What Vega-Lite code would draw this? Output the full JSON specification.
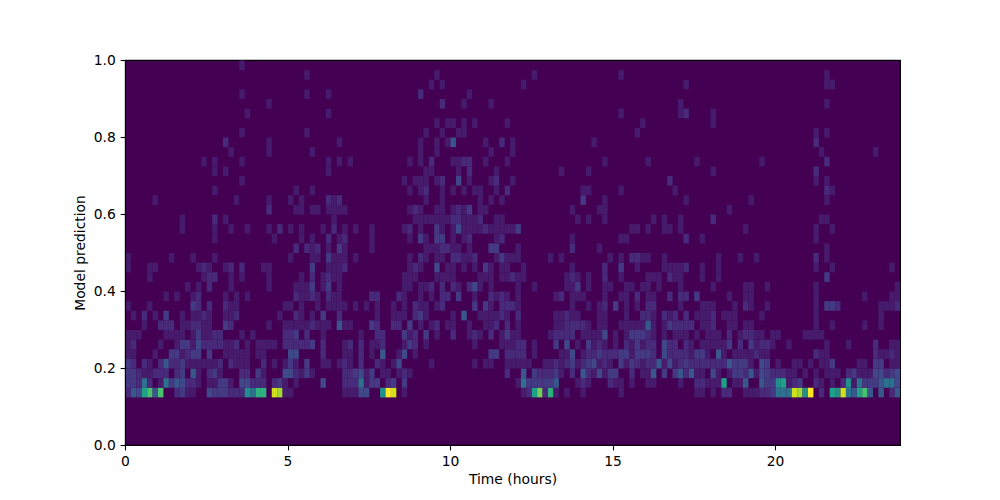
{"$schema":"https://vega.github.io/schema/vega-lite/v6.json","width":775,"height":385,"autosize":"none","padding":{"left":125,"top":60,"right":100,"bottom":55},"background":"white","config":{"view":{"fill":"#440154","stroke":"black","strokeWidth":1.1},"axis":{"grid":false,"labelFont":"DejaVu Sans","titleFont":"DejaVu Sans","labelFontSize":13.89,"titleFontSize":13.89,"titleFontWeight":"normal","labelColor":"black","titleColor":"black","domainColor":"black","tickColor":"black","tickSize":4.86,"tickWidth":1.1,"domainWidth":1.1,"labelFlush":false,"labelOverlap":false,"labelPadding":4.86}},
"data":{"values":[
{"t":0.08,"p":0.138,"n":2},{"t":0.25,"p":0.138,"n":5},{"t":0.42,"p":0.138,"n":4},{"t":0.58,"p":0.138,"n":8},{"t":0.75,"p":0.138,"n":10},{"t":0.92,"p":0.138,"n":5},{"t":1.08,"p":0.138,"n":10},{"t":1.58,"p":0.138,"n":2},{"t":1.75,"p":0.138,"n":3},{"t":1.92,"p":0.138,"n":1},{"t":2.08,"p":0.138,"n":1},{"t":2.58,"p":0.138,"n":4},{"t":2.75,"p":0.138,"n":3},{"t":2.92,"p":0.138,"n":3},{"t":3.08,"p":0.138,"n":3},{"t":3.25,"p":0.138,"n":2},{"t":3.42,"p":0.138,"n":2},{"t":3.58,"p":0.138,"n":2},{"t":3.75,"p":0.138,"n":7},{"t":3.92,"p":0.138,"n":6},{"t":4.08,"p":0.138,"n":9},{"t":4.25,"p":0.138,"n":9},{"t":4.58,"p":0.138,"n":13},{"t":4.75,"p":0.138,"n":12},{"t":4.92,"p":0.138,"n":1},{"t":5.08,"p":0.138,"n":1},{"t":6.75,"p":0.138,"n":1},{"t":6.92,"p":0.138,"n":1},{"t":7.08,"p":0.138,"n":1},{"t":7.25,"p":0.138,"n":4},{"t":7.42,"p":0.138,"n":4},{"t":7.92,"p":0.138,"n":7},{"t":8.08,"p":0.138,"n":14},{"t":8.25,"p":0.138,"n":13},{"t":8.58,"p":0.138,"n":1},{"t":12.25,"p":0.138,"n":1},{"t":12.42,"p":0.138,"n":2},{"t":12.58,"p":0.138,"n":8},{"t":12.75,"p":0.138,"n":11},{"t":12.92,"p":0.138,"n":2},{"t":13.08,"p":0.138,"n":9},{"t":13.25,"p":0.138,"n":1},{"t":13.58,"p":0.138,"n":1},{"t":14.08,"p":0.138,"n":1},{"t":15.25,"p":0.138,"n":1},{"t":17.58,"p":0.138,"n":1},{"t":17.75,"p":0.138,"n":1},{"t":18.08,"p":0.138,"n":1},{"t":18.42,"p":0.138,"n":2},{"t":18.58,"p":0.138,"n":2},{"t":19.08,"p":0.138,"n":1},{"t":19.25,"p":0.138,"n":1},{"t":19.42,"p":0.138,"n":1},{"t":19.58,"p":0.138,"n":2},{"t":19.75,"p":0.138,"n":2},{"t":19.92,"p":0.138,"n":3},{"t":20.08,"p":0.138,"n":6},{"t":20.25,"p":0.138,"n":6},{"t":20.42,"p":0.138,"n":6},{"t":20.58,"p":0.138,"n":13},{"t":20.75,"p":0.138,"n":12},{"t":20.92,"p":0.138,"n":7},{"t":21.08,"p":0.138,"n":14},{"t":21.42,"p":0.138,"n":2},{"t":21.75,"p":0.138,"n":8},{"t":21.92,"p":0.138,"n":7},{"t":22.08,"p":0.138,"n":13},{"t":22.25,"p":0.138,"n":6},{"t":22.42,"p":0.138,"n":5},{"t":22.58,"p":0.138,"n":8},{"t":22.75,"p":0.138,"n":10},{"t":22.92,"p":0.138,"n":5},{"t":23.25,"p":0.138,"n":5},{"t":23.58,"p":0.138,"n":2},{"t":23.75,"p":0.138,"n":5},
{"t":0.08,"p":0.163,"n":3},{"t":0.25,"p":0.163,"n":3},{"t":0.42,"p":0.163,"n":2},{"t":0.58,"p":0.163,"n":6},{"t":0.75,"p":0.163,"n":2},{"t":1.08,"p":0.163,"n":1},{"t":1.25,"p":0.163,"n":6},{"t":1.42,"p":0.163,"n":3},{"t":1.58,"p":0.163,"n":5},{"t":1.75,"p":0.163,"n":4},{"t":1.92,"p":0.163,"n":2},{"t":2.08,"p":0.163,"n":2},{"t":2.25,"p":0.163,"n":1},{"t":2.58,"p":0.163,"n":1},{"t":2.75,"p":0.163,"n":1},{"t":2.92,"p":0.163,"n":3},{"t":3.08,"p":0.163,"n":3},{"t":3.25,"p":0.163,"n":1},{"t":3.58,"p":0.163,"n":4},{"t":3.75,"p":0.163,"n":4},{"t":3.92,"p":0.163,"n":2},{"t":4.08,"p":0.163,"n":2},{"t":4.25,"p":0.163,"n":2},{"t":4.58,"p":0.163,"n":2},{"t":4.75,"p":0.163,"n":3},{"t":4.92,"p":0.163,"n":1},{"t":5.25,"p":0.163,"n":1},{"t":6.08,"p":0.163,"n":4},{"t":6.75,"p":0.163,"n":2},{"t":6.92,"p":0.163,"n":2},{"t":7.08,"p":0.163,"n":2},{"t":7.25,"p":0.163,"n":6},{"t":7.42,"p":0.163,"n":1},{"t":7.58,"p":0.163,"n":3},{"t":7.75,"p":0.163,"n":3},{"t":8.08,"p":0.163,"n":2},{"t":8.25,"p":0.163,"n":3},{"t":8.58,"p":0.163,"n":3},{"t":12.08,"p":0.163,"n":1},{"t":12.25,"p":0.163,"n":6},{"t":12.42,"p":0.163,"n":3},{"t":12.58,"p":0.163,"n":3},{"t":12.75,"p":0.163,"n":3},{"t":12.92,"p":0.163,"n":3},{"t":13.08,"p":0.163,"n":3},{"t":13.25,"p":0.163,"n":5},{"t":13.92,"p":0.163,"n":1},{"t":14.08,"p":0.163,"n":2},{"t":14.25,"p":0.163,"n":1},{"t":14.92,"p":0.163,"n":2},{"t":15.08,"p":0.163,"n":1},{"t":15.25,"p":0.163,"n":1},{"t":15.58,"p":0.163,"n":1},{"t":16.08,"p":0.163,"n":1},{"t":16.25,"p":0.163,"n":1},{"t":17.08,"p":0.163,"n":1},{"t":17.58,"p":0.163,"n":2},{"t":17.75,"p":0.163,"n":2},{"t":17.92,"p":0.163,"n":1},{"t":18.08,"p":0.163,"n":1},{"t":18.25,"p":0.163,"n":1},{"t":18.42,"p":0.163,"n":8},{"t":18.75,"p":0.163,"n":1},{"t":18.92,"p":0.163,"n":1},{"t":19.08,"p":0.163,"n":5},{"t":19.58,"p":0.163,"n":5},{"t":19.75,"p":0.163,"n":3},{"t":19.92,"p":0.163,"n":3},{"t":20.08,"p":0.163,"n":7},{"t":20.25,"p":0.163,"n":8},{"t":20.42,"p":0.163,"n":1},{"t":20.58,"p":0.163,"n":2},{"t":20.75,"p":0.163,"n":3},{"t":21.25,"p":0.163,"n":2},{"t":21.42,"p":0.163,"n":1},{"t":21.75,"p":0.163,"n":1},{"t":22.08,"p":0.163,"n":2},{"t":22.25,"p":0.163,"n":7},{"t":22.42,"p":0.163,"n":1},{"t":22.58,"p":0.163,"n":6},{"t":22.75,"p":0.163,"n":3},{"t":22.92,"p":0.163,"n":3},{"t":23.08,"p":0.163,"n":3},{"t":23.25,"p":0.163,"n":5},{"t":23.42,"p":0.163,"n":6},{"t":23.58,"p":0.163,"n":6},{"t":23.75,"p":0.163,"n":4},
{"t":0.08,"p":0.188,"n":3},{"t":0.25,"p":0.188,"n":3},{"t":0.42,"p":0.188,"n":2},{"t":0.58,"p":0.188,"n":1},{"t":0.75,"p":0.188,"n":1},{"t":0.92,"p":0.188,"n":2},{"t":1.08,"p":0.188,"n":2},{"t":1.25,"p":0.188,"n":2},{"t":1.58,"p":0.188,"n":2},{"t":1.75,"p":0.188,"n":3},{"t":2.08,"p":0.188,"n":5},{"t":2.25,"p":0.188,"n":1},{"t":2.58,"p":0.188,"n":2},{"t":2.75,"p":0.188,"n":3},{"t":2.92,"p":0.188,"n":1},{"t":3.58,"p":0.188,"n":2},{"t":3.75,"p":0.188,"n":2},{"t":4.08,"p":0.188,"n":3},{"t":4.25,"p":0.188,"n":1},{"t":4.92,"p":0.188,"n":4},{"t":5.08,"p":0.188,"n":4},{"t":5.25,"p":0.188,"n":2},{"t":5.42,"p":0.188,"n":1},{"t":5.58,"p":0.188,"n":3},{"t":5.75,"p":0.188,"n":1},{"t":6.75,"p":0.188,"n":2},{"t":6.92,"p":0.188,"n":2},{"t":7.08,"p":0.188,"n":3},{"t":7.25,"p":0.188,"n":4},{"t":7.42,"p":0.188,"n":1},{"t":7.58,"p":0.188,"n":3},{"t":7.92,"p":0.188,"n":1},{"t":8.08,"p":0.188,"n":1},{"t":8.42,"p":0.188,"n":1},{"t":8.58,"p":0.188,"n":2},{"t":8.75,"p":0.188,"n":1},{"t":11.75,"p":0.188,"n":2},{"t":12.25,"p":0.188,"n":5},{"t":12.58,"p":0.188,"n":3},{"t":12.75,"p":0.188,"n":2},{"t":12.92,"p":0.188,"n":2},{"t":13.08,"p":0.188,"n":2},{"t":13.25,"p":0.188,"n":3},{"t":13.42,"p":0.188,"n":1},{"t":13.75,"p":0.188,"n":2},{"t":14.08,"p":0.188,"n":5},{"t":14.25,"p":0.188,"n":2},{"t":14.42,"p":0.188,"n":1},{"t":14.58,"p":0.188,"n":4},{"t":14.75,"p":0.188,"n":1},{"t":14.92,"p":0.188,"n":3},{"t":15.08,"p":0.188,"n":3},{"t":15.58,"p":0.188,"n":2},{"t":15.92,"p":0.188,"n":1},{"t":16.08,"p":0.188,"n":1},{"t":16.25,"p":0.188,"n":5},{"t":16.58,"p":0.188,"n":3},{"t":16.92,"p":0.188,"n":3},{"t":17.08,"p":0.188,"n":5},{"t":17.25,"p":0.188,"n":2},{"t":17.42,"p":0.188,"n":5},{"t":17.58,"p":0.188,"n":1},{"t":17.75,"p":0.188,"n":1},{"t":18.08,"p":0.188,"n":4},{"t":18.25,"p":0.188,"n":1},{"t":18.58,"p":0.188,"n":1},{"t":18.75,"p":0.188,"n":3},{"t":18.92,"p":0.188,"n":3},{"t":19.08,"p":0.188,"n":2},{"t":19.25,"p":0.188,"n":5},{"t":19.42,"p":0.188,"n":1},{"t":19.58,"p":0.188,"n":4},{"t":19.75,"p":0.188,"n":3},{"t":19.92,"p":0.188,"n":2},{"t":20.08,"p":0.188,"n":2},{"t":20.25,"p":0.188,"n":2},{"t":20.42,"p":0.188,"n":1},{"t":20.58,"p":0.188,"n":1},{"t":20.92,"p":0.188,"n":1},{"t":21.25,"p":0.188,"n":1},{"t":21.58,"p":0.188,"n":1},{"t":21.75,"p":0.188,"n":1},{"t":21.92,"p":0.188,"n":1},{"t":22.25,"p":0.188,"n":2},{"t":22.42,"p":0.188,"n":3},{"t":22.58,"p":0.188,"n":1},{"t":22.75,"p":0.188,"n":1},{"t":22.92,"p":0.188,"n":1},{"t":23.08,"p":0.188,"n":4},{"t":23.25,"p":0.188,"n":4},{"t":23.42,"p":0.188,"n":2},{"t":23.58,"p":0.188,"n":3},{"t":23.75,"p":0.188,"n":4},
{"t":0.08,"p":0.213,"n":3},{"t":0.25,"p":0.213,"n":2},{"t":0.58,"p":0.213,"n":2},{"t":0.75,"p":0.213,"n":1},{"t":1.08,"p":0.213,"n":2},{"t":1.25,"p":0.213,"n":5},{"t":1.42,"p":0.213,"n":2},{"t":1.58,"p":0.213,"n":2},{"t":1.75,"p":0.213,"n":3},{"t":1.92,"p":0.213,"n":1},{"t":2.08,"p":0.213,"n":1},{"t":2.25,"p":0.213,"n":1},{"t":2.42,"p":0.213,"n":1},{"t":2.58,"p":0.213,"n":1},{"t":2.75,"p":0.213,"n":1},{"t":2.92,"p":0.213,"n":2},{"t":3.25,"p":0.213,"n":2},{"t":3.42,"p":0.213,"n":1},{"t":3.58,"p":0.213,"n":1},{"t":3.75,"p":0.213,"n":1},{"t":4.25,"p":0.213,"n":2},{"t":4.58,"p":0.213,"n":1},{"t":4.92,"p":0.213,"n":1},{"t":5.08,"p":0.213,"n":3},{"t":5.25,"p":0.213,"n":1},{"t":5.58,"p":0.213,"n":3},{"t":6.08,"p":0.213,"n":1},{"t":6.25,"p":0.213,"n":1},{"t":6.58,"p":0.213,"n":1},{"t":6.75,"p":0.213,"n":2},{"t":6.92,"p":0.213,"n":1},{"t":7.25,"p":0.213,"n":2},{"t":7.75,"p":0.213,"n":2},{"t":7.92,"p":0.213,"n":1},{"t":8.25,"p":0.213,"n":1},{"t":8.42,"p":0.213,"n":4},{"t":9.42,"p":0.213,"n":1},{"t":10.75,"p":0.213,"n":1},{"t":11.08,"p":0.213,"n":1},{"t":11.25,"p":0.213,"n":1},{"t":11.75,"p":0.213,"n":1},{"t":11.92,"p":0.213,"n":1},{"t":12.08,"p":0.213,"n":1},{"t":12.25,"p":0.213,"n":1},{"t":12.42,"p":0.213,"n":1},{"t":12.92,"p":0.213,"n":1},{"t":13.08,"p":0.213,"n":1},{"t":13.25,"p":0.213,"n":2},{"t":13.42,"p":0.213,"n":1},{"t":13.58,"p":0.213,"n":2},{"t":13.75,"p":0.213,"n":3},{"t":13.92,"p":0.213,"n":1},{"t":14.08,"p":0.213,"n":2},{"t":14.25,"p":0.213,"n":3},{"t":14.42,"p":0.213,"n":4},{"t":14.58,"p":0.213,"n":1},{"t":14.75,"p":0.213,"n":2},{"t":14.92,"p":0.213,"n":1},{"t":15.25,"p":0.213,"n":3},{"t":15.42,"p":0.213,"n":1},{"t":15.58,"p":0.213,"n":3},{"t":15.75,"p":0.213,"n":2},{"t":15.92,"p":0.213,"n":1},{"t":16.08,"p":0.213,"n":2},{"t":16.25,"p":0.213,"n":2},{"t":16.42,"p":0.213,"n":5},{"t":16.58,"p":0.213,"n":1},{"t":16.75,"p":0.213,"n":4},{"t":16.92,"p":0.213,"n":1},{"t":17.08,"p":0.213,"n":2},{"t":17.25,"p":0.213,"n":3},{"t":17.42,"p":0.213,"n":2},{"t":17.58,"p":0.213,"n":2},{"t":17.75,"p":0.213,"n":2},{"t":17.92,"p":0.213,"n":2},{"t":18.08,"p":0.213,"n":2},{"t":18.25,"p":0.213,"n":2},{"t":18.42,"p":0.213,"n":2},{"t":18.58,"p":0.213,"n":5},{"t":18.75,"p":0.213,"n":3},{"t":18.92,"p":0.213,"n":3},{"t":19.08,"p":0.213,"n":3},{"t":19.25,"p":0.213,"n":1},{"t":19.58,"p":0.213,"n":4},{"t":19.75,"p":0.213,"n":3},{"t":20.08,"p":0.213,"n":1},{"t":20.58,"p":0.213,"n":1},{"t":20.75,"p":0.213,"n":1},{"t":21.08,"p":0.213,"n":1},{"t":21.42,"p":0.213,"n":1},{"t":21.58,"p":0.213,"n":1},{"t":21.75,"p":0.213,"n":3},{"t":22.58,"p":0.213,"n":1},{"t":22.75,"p":0.213,"n":1},{"t":23.08,"p":0.213,"n":3},{"t":23.25,"p":0.213,"n":3},{"t":23.58,"p":0.213,"n":1},{"t":23.75,"p":0.213,"n":1},
{"t":0.08,"p":0.238,"n":1},{"t":0.25,"p":0.238,"n":1},{"t":0.92,"p":0.238,"n":1},{"t":1.42,"p":0.238,"n":3},{"t":1.58,"p":0.238,"n":3},{"t":1.75,"p":0.238,"n":1},{"t":1.92,"p":0.238,"n":2},{"t":2.08,"p":0.238,"n":3},{"t":2.25,"p":0.238,"n":3},{"t":2.58,"p":0.238,"n":3},{"t":3.08,"p":0.238,"n":1},{"t":3.25,"p":0.238,"n":1},{"t":3.42,"p":0.238,"n":1},{"t":3.58,"p":0.238,"n":1},{"t":3.75,"p":0.238,"n":1},{"t":4.08,"p":0.238,"n":1},{"t":4.25,"p":0.238,"n":1},{"t":5.08,"p":0.238,"n":4},{"t":5.25,"p":0.238,"n":4},{"t":6.08,"p":0.238,"n":2},{"t":6.75,"p":0.238,"n":1},{"t":6.92,"p":0.238,"n":1},{"t":7.25,"p":0.238,"n":2},{"t":7.58,"p":0.238,"n":1},{"t":7.92,"p":0.238,"n":5},{"t":8.42,"p":0.238,"n":1},{"t":8.58,"p":0.238,"n":4},{"t":8.92,"p":0.238,"n":1},{"t":11.25,"p":0.238,"n":3},{"t":11.42,"p":0.238,"n":3},{"t":11.75,"p":0.238,"n":2},{"t":11.92,"p":0.238,"n":2},{"t":12.08,"p":0.238,"n":2},{"t":12.25,"p":0.238,"n":2},{"t":12.58,"p":0.238,"n":1},{"t":13.42,"p":0.238,"n":1},{"t":13.58,"p":0.238,"n":1},{"t":13.75,"p":0.238,"n":4},{"t":14.08,"p":0.238,"n":1},{"t":14.25,"p":0.238,"n":2},{"t":14.42,"p":0.238,"n":2},{"t":14.58,"p":0.238,"n":3},{"t":14.75,"p":0.238,"n":2},{"t":14.92,"p":0.238,"n":2},{"t":15.08,"p":0.238,"n":2},{"t":15.25,"p":0.238,"n":3},{"t":15.42,"p":0.238,"n":3},{"t":15.58,"p":0.238,"n":1},{"t":15.75,"p":0.238,"n":3},{"t":15.92,"p":0.238,"n":3},{"t":16.08,"p":0.238,"n":3},{"t":16.25,"p":0.238,"n":2},{"t":16.58,"p":0.238,"n":4},{"t":16.75,"p":0.238,"n":2},{"t":16.92,"p":0.238,"n":2},{"t":17.08,"p":0.238,"n":2},{"t":17.25,"p":0.238,"n":2},{"t":17.42,"p":0.238,"n":1},{"t":17.58,"p":0.238,"n":3},{"t":17.75,"p":0.238,"n":3},{"t":17.92,"p":0.238,"n":1},{"t":18.25,"p":0.238,"n":5},{"t":18.42,"p":0.238,"n":1},{"t":18.75,"p":0.238,"n":1},{"t":18.92,"p":0.238,"n":1},{"t":19.08,"p":0.238,"n":1},{"t":19.25,"p":0.238,"n":1},{"t":19.42,"p":0.238,"n":2},{"t":19.58,"p":0.238,"n":1},{"t":19.75,"p":0.238,"n":1},{"t":21.25,"p":0.238,"n":2},{"t":21.42,"p":0.238,"n":1},{"t":21.58,"p":0.238,"n":1},{"t":23.08,"p":0.238,"n":2},{"t":23.25,"p":0.238,"n":1},{"t":23.42,"p":0.238,"n":1},{"t":23.58,"p":0.238,"n":2},{"t":23.75,"p":0.238,"n":1},
{"t":0.08,"p":0.263,"n":1},{"t":0.25,"p":0.263,"n":2},{"t":1.08,"p":0.263,"n":1},{"t":1.58,"p":0.263,"n":1},{"t":1.75,"p":0.263,"n":3},{"t":1.92,"p":0.263,"n":3},{"t":2.08,"p":0.263,"n":1},{"t":2.25,"p":0.263,"n":4},{"t":2.42,"p":0.263,"n":2},{"t":2.58,"p":0.263,"n":2},{"t":2.75,"p":0.263,"n":2},{"t":2.92,"p":0.263,"n":2},{"t":3.08,"p":0.263,"n":1},{"t":3.25,"p":0.263,"n":1},{"t":3.42,"p":0.263,"n":2},{"t":3.75,"p":0.263,"n":1},{"t":4.08,"p":0.263,"n":1},{"t":4.25,"p":0.263,"n":1},{"t":4.42,"p":0.263,"n":1},{"t":4.58,"p":0.263,"n":1},{"t":4.92,"p":0.263,"n":2},{"t":5.08,"p":0.263,"n":2},{"t":5.25,"p":0.263,"n":2},{"t":5.42,"p":0.263,"n":2},{"t":5.58,"p":0.263,"n":2},{"t":5.75,"p":0.263,"n":3},{"t":6.08,"p":0.263,"n":2},{"t":6.75,"p":0.263,"n":1},{"t":6.92,"p":0.263,"n":2},{"t":7.25,"p":0.263,"n":2},{"t":7.58,"p":0.263,"n":1},{"t":7.75,"p":0.263,"n":1},{"t":7.92,"p":0.263,"n":2},{"t":8.58,"p":0.263,"n":1},{"t":8.75,"p":0.263,"n":3},{"t":8.92,"p":0.263,"n":2},{"t":9.25,"p":0.263,"n":1},{"t":10.75,"p":0.263,"n":1},{"t":11.58,"p":0.263,"n":1},{"t":11.75,"p":0.263,"n":1},{"t":11.92,"p":0.263,"n":1},{"t":12.08,"p":0.263,"n":2},{"t":12.25,"p":0.263,"n":2},{"t":12.58,"p":0.263,"n":1},{"t":13.25,"p":0.263,"n":3},{"t":13.58,"p":0.263,"n":4},{"t":13.92,"p":0.263,"n":1},{"t":14.25,"p":0.263,"n":3},{"t":14.42,"p":0.263,"n":1},{"t":14.58,"p":0.263,"n":2},{"t":14.75,"p":0.263,"n":1},{"t":15.08,"p":0.263,"n":1},{"t":15.42,"p":0.263,"n":2},{"t":15.58,"p":0.263,"n":1},{"t":15.75,"p":0.263,"n":3},{"t":15.92,"p":0.263,"n":1},{"t":16.08,"p":0.263,"n":2},{"t":16.25,"p":0.263,"n":2},{"t":16.58,"p":0.263,"n":4},{"t":16.75,"p":0.263,"n":2},{"t":16.92,"p":0.263,"n":2},{"t":17.25,"p":0.263,"n":2},{"t":17.42,"p":0.263,"n":1},{"t":17.75,"p":0.263,"n":1},{"t":17.92,"p":0.263,"n":1},{"t":18.08,"p":0.263,"n":1},{"t":18.25,"p":0.263,"n":1},{"t":18.42,"p":0.263,"n":1},{"t":18.58,"p":0.263,"n":3},{"t":18.92,"p":0.263,"n":2},{"t":19.25,"p":0.263,"n":3},{"t":19.42,"p":0.263,"n":1},{"t":19.58,"p":0.263,"n":2},{"t":19.75,"p":0.263,"n":2},{"t":19.92,"p":0.263,"n":1},{"t":20.42,"p":0.263,"n":1},{"t":21.58,"p":0.263,"n":1},{"t":22.25,"p":0.263,"n":1},{"t":23.08,"p":0.263,"n":2},{"t":23.58,"p":0.263,"n":1},{"t":23.75,"p":0.263,"n":1},
{"t":0.08,"p":0.288,"n":1},{"t":0.25,"p":0.288,"n":1},{"t":0.42,"p":0.288,"n":1},{"t":1.25,"p":0.288,"n":1},{"t":1.42,"p":0.288,"n":1},{"t":1.58,"p":0.288,"n":1},{"t":1.75,"p":0.288,"n":1},{"t":2.08,"p":0.288,"n":1},{"t":2.25,"p":0.288,"n":3},{"t":2.42,"p":0.288,"n":1},{"t":2.58,"p":0.288,"n":1},{"t":2.75,"p":0.288,"n":2},{"t":2.92,"p":0.288,"n":2},{"t":3.58,"p":0.288,"n":1},{"t":3.92,"p":0.288,"n":1},{"t":4.92,"p":0.288,"n":2},{"t":5.08,"p":0.288,"n":2},{"t":5.25,"p":0.288,"n":3},{"t":5.58,"p":0.288,"n":2},{"t":6.08,"p":0.288,"n":1},{"t":7.25,"p":0.288,"n":1},{"t":7.75,"p":0.288,"n":2},{"t":7.92,"p":0.288,"n":2},{"t":8.58,"p":0.288,"n":3},{"t":8.75,"p":0.288,"n":1},{"t":8.92,"p":0.288,"n":2},{"t":9.25,"p":0.288,"n":3},{"t":9.58,"p":0.288,"n":1},{"t":10.08,"p":0.288,"n":2},{"t":10.58,"p":0.288,"n":1},{"t":10.75,"p":0.288,"n":2},{"t":10.92,"p":0.288,"n":1},{"t":11.25,"p":0.288,"n":2},{"t":11.58,"p":0.288,"n":1},{"t":11.75,"p":0.288,"n":3},{"t":11.92,"p":0.288,"n":1},{"t":12.08,"p":0.288,"n":1},{"t":13.08,"p":0.288,"n":1},{"t":13.25,"p":0.288,"n":2},{"t":13.42,"p":0.288,"n":2},{"t":13.58,"p":0.288,"n":2},{"t":13.75,"p":0.288,"n":2},{"t":14.08,"p":0.288,"n":1},{"t":14.25,"p":0.288,"n":1},{"t":14.42,"p":0.288,"n":1},{"t":14.58,"p":0.288,"n":1},{"t":14.75,"p":0.288,"n":4},{"t":15.08,"p":0.288,"n":1},{"t":15.42,"p":0.288,"n":1},{"t":15.58,"p":0.288,"n":3},{"t":15.75,"p":0.288,"n":3},{"t":15.92,"p":0.288,"n":3},{"t":16.08,"p":0.288,"n":2},{"t":16.25,"p":0.288,"n":1},{"t":16.58,"p":0.288,"n":1},{"t":16.92,"p":0.288,"n":1},{"t":17.08,"p":0.288,"n":1},{"t":17.25,"p":0.288,"n":1},{"t":17.58,"p":0.288,"n":1},{"t":17.92,"p":0.288,"n":1},{"t":18.08,"p":0.288,"n":1},{"t":18.25,"p":0.288,"n":1},{"t":18.58,"p":0.288,"n":2},{"t":18.92,"p":0.288,"n":1},{"t":19.08,"p":0.288,"n":2},{"t":19.25,"p":0.288,"n":2},{"t":19.42,"p":0.288,"n":1},{"t":19.58,"p":0.288,"n":1},{"t":19.92,"p":0.288,"n":1},{"t":20.08,"p":0.288,"n":1},{"t":20.92,"p":0.288,"n":1},{"t":21.08,"p":0.288,"n":1},{"t":21.25,"p":0.288,"n":1},{"t":21.42,"p":0.288,"n":1},
{"t":0.58,"p":0.313,"n":1},{"t":1.08,"p":0.313,"n":2},{"t":1.25,"p":0.313,"n":2},{"t":1.42,"p":0.313,"n":2},{"t":1.75,"p":0.313,"n":1},{"t":1.92,"p":0.313,"n":1},{"t":2.08,"p":0.313,"n":2},{"t":2.25,"p":0.313,"n":2},{"t":2.42,"p":0.313,"n":1},{"t":2.58,"p":0.313,"n":1},{"t":3.08,"p":0.313,"n":3},{"t":3.25,"p":0.313,"n":2},{"t":4.42,"p":0.313,"n":1},{"t":4.92,"p":0.313,"n":1},{"t":5.08,"p":0.313,"n":1},{"t":5.25,"p":0.313,"n":1},{"t":5.42,"p":0.313,"n":1},{"t":5.58,"p":0.313,"n":1},{"t":5.75,"p":0.313,"n":2},{"t":5.92,"p":0.313,"n":1},{"t":6.08,"p":0.313,"n":1},{"t":6.25,"p":0.313,"n":1},{"t":6.58,"p":0.313,"n":5},{"t":6.75,"p":0.313,"n":1},{"t":6.92,"p":0.313,"n":1},{"t":7.58,"p":0.313,"n":3},{"t":7.75,"p":0.313,"n":2},{"t":8.25,"p":0.313,"n":2},{"t":8.42,"p":0.313,"n":2},{"t":8.75,"p":0.313,"n":3},{"t":9.08,"p":0.313,"n":1},{"t":9.42,"p":0.313,"n":1},{"t":9.58,"p":0.313,"n":2},{"t":9.92,"p":0.313,"n":1},{"t":10.08,"p":0.313,"n":1},{"t":10.58,"p":0.313,"n":1},{"t":11.08,"p":0.313,"n":1},{"t":11.25,"p":0.313,"n":1},{"t":11.42,"p":0.313,"n":2},{"t":11.75,"p":0.313,"n":2},{"t":12.08,"p":0.313,"n":1},{"t":13.25,"p":0.313,"n":1},{"t":13.42,"p":0.313,"n":1},{"t":13.58,"p":0.313,"n":2},{"t":13.75,"p":0.313,"n":2},{"t":13.92,"p":0.313,"n":2},{"t":14.08,"p":0.313,"n":2},{"t":14.25,"p":0.313,"n":1},{"t":14.58,"p":0.313,"n":1},{"t":14.75,"p":0.313,"n":1},{"t":15.25,"p":0.313,"n":1},{"t":15.42,"p":0.313,"n":1},{"t":15.58,"p":0.313,"n":1},{"t":15.75,"p":0.313,"n":1},{"t":15.92,"p":0.313,"n":1},{"t":16.08,"p":0.313,"n":5},{"t":16.25,"p":0.313,"n":1},{"t":16.58,"p":0.313,"n":1},{"t":16.75,"p":0.313,"n":3},{"t":16.92,"p":0.313,"n":2},{"t":17.08,"p":0.313,"n":2},{"t":17.25,"p":0.313,"n":2},{"t":17.42,"p":0.313,"n":2},{"t":17.75,"p":0.313,"n":1},{"t":17.92,"p":0.313,"n":1},{"t":18.08,"p":0.313,"n":2},{"t":18.58,"p":0.313,"n":1},{"t":18.75,"p":0.313,"n":1},{"t":19.08,"p":0.313,"n":1},{"t":19.25,"p":0.313,"n":1},{"t":21.25,"p":0.313,"n":1},{"t":21.75,"p":0.313,"n":1},{"t":22.75,"p":0.313,"n":1},{"t":23.25,"p":0.313,"n":1},
{"t":0.25,"p":0.338,"n":1},{"t":0.58,"p":0.338,"n":2},{"t":0.92,"p":0.338,"n":1},{"t":1.25,"p":0.338,"n":3},{"t":1.75,"p":0.338,"n":1},{"t":2.08,"p":0.338,"n":1},{"t":2.25,"p":0.338,"n":1},{"t":2.42,"p":0.338,"n":2},{"t":2.58,"p":0.338,"n":1},{"t":3.08,"p":0.338,"n":1},{"t":3.25,"p":0.338,"n":1},{"t":3.42,"p":0.338,"n":2},{"t":4.75,"p":0.338,"n":1},{"t":5.25,"p":0.338,"n":2},{"t":5.42,"p":0.338,"n":1},{"t":5.75,"p":0.338,"n":1},{"t":6.08,"p":0.338,"n":3},{"t":6.58,"p":0.338,"n":2},{"t":7.75,"p":0.338,"n":1},{"t":8.25,"p":0.338,"n":1},{"t":8.42,"p":0.338,"n":1},{"t":8.58,"p":0.338,"n":1},{"t":8.92,"p":0.338,"n":2},{"t":9.08,"p":0.338,"n":3},{"t":9.25,"p":0.338,"n":1},{"t":10.08,"p":0.338,"n":1},{"t":10.42,"p":0.338,"n":5},{"t":10.92,"p":0.338,"n":1},{"t":11.08,"p":0.338,"n":1},{"t":11.25,"p":0.338,"n":1},{"t":11.42,"p":0.338,"n":1},{"t":11.58,"p":0.338,"n":2},{"t":11.75,"p":0.338,"n":1},{"t":12.08,"p":0.338,"n":2},{"t":13.25,"p":0.338,"n":1},{"t":13.42,"p":0.338,"n":1},{"t":13.58,"p":0.338,"n":2},{"t":13.75,"p":0.338,"n":1},{"t":13.92,"p":0.338,"n":1},{"t":14.58,"p":0.338,"n":1},{"t":14.75,"p":0.338,"n":1},{"t":15.42,"p":0.338,"n":1},{"t":15.92,"p":0.338,"n":2},{"t":16.08,"p":0.338,"n":2},{"t":16.25,"p":0.338,"n":1},{"t":16.58,"p":0.338,"n":2},{"t":16.75,"p":0.338,"n":1},{"t":16.92,"p":0.338,"n":2},{"t":17.25,"p":0.338,"n":2},{"t":17.58,"p":0.338,"n":1},{"t":17.75,"p":0.338,"n":1},{"t":17.92,"p":0.338,"n":1},{"t":18.08,"p":0.338,"n":2},{"t":18.42,"p":0.338,"n":1},{"t":18.58,"p":0.338,"n":1},{"t":18.75,"p":0.338,"n":1},{"t":19.58,"p":0.338,"n":1},{"t":21.25,"p":0.338,"n":1},{"t":23.25,"p":0.338,"n":1},
{"t":0.08,"p":0.363,"n":1},{"t":0.75,"p":0.363,"n":1},{"t":2.08,"p":0.363,"n":3},{"t":2.25,"p":0.363,"n":2},{"t":2.58,"p":0.363,"n":2},{"t":3.08,"p":0.363,"n":2},{"t":3.25,"p":0.363,"n":1},{"t":3.42,"p":0.363,"n":1},{"t":4.92,"p":0.363,"n":1},{"t":5.08,"p":0.363,"n":1},{"t":5.42,"p":0.363,"n":1},{"t":5.92,"p":0.363,"n":1},{"t":6.25,"p":0.363,"n":1},{"t":6.42,"p":0.363,"n":1},{"t":6.58,"p":0.363,"n":1},{"t":6.75,"p":0.363,"n":1},{"t":7.08,"p":0.363,"n":1},{"t":7.42,"p":0.363,"n":1},{"t":7.75,"p":0.363,"n":1},{"t":8.25,"p":0.363,"n":1},{"t":8.58,"p":0.363,"n":1},{"t":8.92,"p":0.363,"n":2},{"t":9.08,"p":0.363,"n":1},{"t":9.25,"p":0.363,"n":1},{"t":9.58,"p":0.363,"n":1},{"t":9.75,"p":0.363,"n":2},{"t":10.75,"p":0.363,"n":3},{"t":11.08,"p":0.363,"n":3},{"t":11.25,"p":0.363,"n":1},{"t":11.58,"p":0.363,"n":2},{"t":11.75,"p":0.363,"n":2},{"t":11.92,"p":0.363,"n":2},{"t":12.08,"p":0.363,"n":1},{"t":13.75,"p":0.363,"n":1},{"t":14.25,"p":0.363,"n":1},{"t":14.58,"p":0.363,"n":1},{"t":14.75,"p":0.363,"n":2},{"t":15.08,"p":0.363,"n":3},{"t":15.42,"p":0.363,"n":1},{"t":15.75,"p":0.363,"n":1},{"t":16.08,"p":0.363,"n":2},{"t":16.25,"p":0.363,"n":2},{"t":17.08,"p":0.363,"n":1},{"t":17.75,"p":0.363,"n":1},{"t":17.92,"p":0.363,"n":1},{"t":18.08,"p":0.363,"n":1},{"t":18.75,"p":0.363,"n":1},{"t":19.08,"p":0.363,"n":2},{"t":19.25,"p":0.363,"n":1},{"t":19.75,"p":0.363,"n":1},{"t":21.25,"p":0.363,"n":1},{"t":21.58,"p":0.363,"n":3},{"t":21.75,"p":0.363,"n":3},{"t":21.92,"p":0.363,"n":2},{"t":23.25,"p":0.363,"n":1},{"t":23.42,"p":0.363,"n":1},{"t":23.58,"p":0.363,"n":1},{"t":23.75,"p":0.363,"n":2},
{"t":1.25,"p":0.388,"n":1},{"t":1.58,"p":0.388,"n":1},{"t":2.08,"p":0.388,"n":1},{"t":2.25,"p":0.388,"n":2},{"t":3.08,"p":0.388,"n":1},{"t":3.42,"p":0.388,"n":1},{"t":3.75,"p":0.388,"n":1},{"t":5.25,"p":0.388,"n":2},{"t":5.42,"p":0.388,"n":1},{"t":5.58,"p":0.388,"n":1},{"t":5.75,"p":0.388,"n":2},{"t":5.92,"p":0.388,"n":1},{"t":6.25,"p":0.388,"n":2},{"t":6.42,"p":0.388,"n":1},{"t":6.58,"p":0.388,"n":1},{"t":7.58,"p":0.388,"n":2},{"t":7.75,"p":0.388,"n":2},{"t":8.42,"p":0.388,"n":2},{"t":8.58,"p":0.388,"n":1},{"t":9.08,"p":0.388,"n":1},{"t":9.42,"p":0.388,"n":1},{"t":9.75,"p":0.388,"n":2},{"t":9.92,"p":0.388,"n":2},{"t":10.25,"p":0.388,"n":3},{"t":10.75,"p":0.388,"n":1},{"t":11.25,"p":0.388,"n":2},{"t":11.42,"p":0.388,"n":1},{"t":11.58,"p":0.388,"n":2},{"t":11.75,"p":0.388,"n":1},{"t":12.08,"p":0.388,"n":1},{"t":13.25,"p":0.388,"n":1},{"t":13.42,"p":0.388,"n":2},{"t":13.75,"p":0.388,"n":1},{"t":13.92,"p":0.388,"n":1},{"t":14.08,"p":0.388,"n":1},{"t":14.75,"p":0.388,"n":1},{"t":15.25,"p":0.388,"n":1},{"t":15.42,"p":0.388,"n":1},{"t":15.75,"p":0.388,"n":2},{"t":16.08,"p":0.388,"n":1},{"t":16.25,"p":0.388,"n":1},{"t":16.75,"p":0.388,"n":2},{"t":17.08,"p":0.388,"n":2},{"t":17.25,"p":0.388,"n":2},{"t":17.58,"p":0.388,"n":3},{"t":18.58,"p":0.388,"n":1},{"t":19.08,"p":0.388,"n":1},{"t":19.25,"p":0.388,"n":1},{"t":21.25,"p":0.388,"n":1},{"t":22.75,"p":0.388,"n":1},{"t":23.58,"p":0.388,"n":1},{"t":23.75,"p":0.388,"n":1},
{"t":1.92,"p":0.413,"n":1},{"t":2.25,"p":0.413,"n":1},{"t":2.58,"p":0.413,"n":2},{"t":3.25,"p":0.413,"n":1},{"t":4.42,"p":0.413,"n":1},{"t":5.25,"p":0.413,"n":1},{"t":5.42,"p":0.413,"n":1},{"t":5.58,"p":0.413,"n":1},{"t":5.75,"p":0.413,"n":3},{"t":6.08,"p":0.413,"n":1},{"t":6.25,"p":0.413,"n":3},{"t":6.58,"p":0.413,"n":1},{"t":8.58,"p":0.413,"n":1},{"t":8.75,"p":0.413,"n":1},{"t":9.08,"p":0.413,"n":1},{"t":9.25,"p":0.413,"n":1},{"t":9.42,"p":0.413,"n":2},{"t":9.75,"p":0.413,"n":2},{"t":10.08,"p":0.413,"n":2},{"t":10.25,"p":0.413,"n":1},{"t":10.58,"p":0.413,"n":2},{"t":10.75,"p":0.413,"n":4},{"t":10.92,"p":0.413,"n":1},{"t":11.25,"p":0.413,"n":1},{"t":12.08,"p":0.413,"n":1},{"t":12.58,"p":0.413,"n":1},{"t":13.58,"p":0.413,"n":1},{"t":13.75,"p":0.413,"n":1},{"t":13.92,"p":0.413,"n":3},{"t":14.25,"p":0.413,"n":1},{"t":14.75,"p":0.413,"n":1},{"t":14.92,"p":0.413,"n":1},{"t":15.42,"p":0.413,"n":1},{"t":15.58,"p":0.413,"n":1},{"t":15.92,"p":0.413,"n":1},{"t":16.08,"p":0.413,"n":1},{"t":16.42,"p":0.413,"n":1},{"t":17.08,"p":0.413,"n":1},{"t":18.08,"p":0.413,"n":1},{"t":19.08,"p":0.413,"n":1},{"t":19.25,"p":0.413,"n":1},{"t":19.75,"p":0.413,"n":1},{"t":21.25,"p":0.413,"n":1},{"t":23.75,"p":0.413,"n":1},
{"t":0.75,"p":0.438,"n":1},{"t":2.42,"p":0.438,"n":1},{"t":2.58,"p":0.438,"n":2},{"t":2.75,"p":0.438,"n":2},{"t":3.25,"p":0.438,"n":1},{"t":3.58,"p":0.438,"n":1},{"t":4.42,"p":0.438,"n":1},{"t":5.42,"p":0.438,"n":1},{"t":5.75,"p":0.438,"n":2},{"t":6.08,"p":0.438,"n":1},{"t":6.25,"p":0.438,"n":2},{"t":6.42,"p":0.438,"n":1},{"t":6.58,"p":0.438,"n":1},{"t":8.58,"p":0.438,"n":1},{"t":8.75,"p":0.438,"n":1},{"t":8.92,"p":0.438,"n":1},{"t":9.58,"p":0.438,"n":1},{"t":9.75,"p":0.438,"n":1},{"t":9.92,"p":0.438,"n":1},{"t":10.08,"p":0.438,"n":1},{"t":10.92,"p":0.438,"n":1},{"t":11.08,"p":0.438,"n":1},{"t":11.25,"p":0.438,"n":1},{"t":11.58,"p":0.438,"n":1},{"t":11.75,"p":0.438,"n":1},{"t":11.92,"p":0.438,"n":2},{"t":12.08,"p":0.438,"n":1},{"t":12.25,"p":0.438,"n":1},{"t":13.58,"p":0.438,"n":1},{"t":13.75,"p":0.438,"n":2},{"t":13.92,"p":0.438,"n":1},{"t":14.25,"p":0.438,"n":1},{"t":14.75,"p":0.438,"n":2},{"t":15.25,"p":0.438,"n":1},{"t":16.08,"p":0.438,"n":1},{"t":16.25,"p":0.438,"n":1},{"t":16.42,"p":0.438,"n":1},{"t":16.75,"p":0.438,"n":2},{"t":16.92,"p":0.438,"n":1},{"t":17.08,"p":0.438,"n":1},{"t":17.75,"p":0.438,"n":1},{"t":18.25,"p":0.438,"n":1},{"t":21.58,"p":0.438,"n":3},
{"t":0.08,"p":0.463,"n":1},{"t":0.75,"p":0.463,"n":1},{"t":0.92,"p":0.463,"n":1},{"t":2.25,"p":0.463,"n":1},{"t":2.42,"p":0.463,"n":2},{"t":2.58,"p":0.463,"n":1},{"t":3.08,"p":0.463,"n":1},{"t":3.25,"p":0.463,"n":2},{"t":3.58,"p":0.463,"n":2},{"t":4.25,"p":0.463,"n":1},{"t":4.42,"p":0.463,"n":1},{"t":5.75,"p":0.463,"n":3},{"t":6.25,"p":0.463,"n":1},{"t":6.42,"p":0.463,"n":1},{"t":6.58,"p":0.463,"n":1},{"t":6.75,"p":0.463,"n":2},{"t":8.75,"p":0.463,"n":1},{"t":8.92,"p":0.463,"n":2},{"t":9.08,"p":0.463,"n":1},{"t":9.58,"p":0.463,"n":4},{"t":9.92,"p":0.463,"n":1},{"t":10.08,"p":0.463,"n":1},{"t":10.42,"p":0.463,"n":1},{"t":10.75,"p":0.463,"n":1},{"t":11.08,"p":0.463,"n":3},{"t":11.25,"p":0.463,"n":1},{"t":11.58,"p":0.463,"n":1},{"t":11.75,"p":0.463,"n":1},{"t":12.25,"p":0.463,"n":1},{"t":13.75,"p":0.463,"n":1},{"t":14.75,"p":0.463,"n":2},{"t":15.25,"p":0.463,"n":3},{"t":15.75,"p":0.463,"n":1},{"t":16.58,"p":0.463,"n":1},{"t":16.75,"p":0.463,"n":1},{"t":16.92,"p":0.463,"n":1},{"t":17.08,"p":0.463,"n":1},{"t":17.25,"p":0.463,"n":2},{"t":17.75,"p":0.463,"n":1},{"t":18.25,"p":0.463,"n":1},{"t":21.25,"p":0.463,"n":1},{"t":21.75,"p":0.463,"n":1},{"t":23.58,"p":0.463,"n":1},
{"t":0.08,"p":0.488,"n":1},{"t":1.42,"p":0.488,"n":1},{"t":2.08,"p":0.488,"n":1},{"t":2.75,"p":0.488,"n":1},{"t":5.08,"p":0.488,"n":1},{"t":5.75,"p":0.488,"n":1},{"t":5.92,"p":0.488,"n":1},{"t":6.25,"p":0.488,"n":3},{"t":6.42,"p":0.488,"n":1},{"t":6.58,"p":0.488,"n":1},{"t":6.75,"p":0.488,"n":1},{"t":7.08,"p":0.488,"n":1},{"t":8.75,"p":0.488,"n":1},{"t":9.08,"p":0.488,"n":2},{"t":9.25,"p":0.488,"n":1},{"t":9.58,"p":0.488,"n":1},{"t":9.75,"p":0.488,"n":1},{"t":10.08,"p":0.488,"n":2},{"t":10.25,"p":0.488,"n":2},{"t":10.42,"p":0.488,"n":1},{"t":10.58,"p":0.488,"n":1},{"t":10.75,"p":0.488,"n":2},{"t":11.42,"p":0.488,"n":1},{"t":11.58,"p":0.488,"n":3},{"t":11.75,"p":0.488,"n":1},{"t":11.92,"p":0.488,"n":1},{"t":12.08,"p":0.488,"n":1},{"t":13.08,"p":0.488,"n":1},{"t":13.42,"p":0.488,"n":1},{"t":14.92,"p":0.488,"n":1},{"t":15.25,"p":0.488,"n":1},{"t":15.58,"p":0.488,"n":2},{"t":15.75,"p":0.488,"n":2},{"t":15.92,"p":0.488,"n":1},{"t":16.08,"p":0.488,"n":1},{"t":16.58,"p":0.488,"n":1},{"t":18.25,"p":0.488,"n":1},{"t":18.92,"p":0.488,"n":1},{"t":19.42,"p":0.488,"n":1},{"t":21.25,"p":0.488,"n":2},{"t":21.58,"p":0.488,"n":1},
{"t":5.25,"p":0.513,"n":2},{"t":5.58,"p":0.513,"n":2},{"t":5.75,"p":0.513,"n":1},{"t":5.92,"p":0.513,"n":2},{"t":6.25,"p":0.513,"n":1},{"t":6.58,"p":0.513,"n":3},{"t":6.75,"p":0.513,"n":1},{"t":7.58,"p":0.513,"n":1},{"t":9.25,"p":0.513,"n":1},{"t":9.42,"p":0.513,"n":1},{"t":9.58,"p":0.513,"n":1},{"t":9.75,"p":0.513,"n":2},{"t":9.92,"p":0.513,"n":2},{"t":10.08,"p":0.513,"n":1},{"t":10.25,"p":0.513,"n":1},{"t":10.58,"p":0.513,"n":1},{"t":11.25,"p":0.513,"n":3},{"t":11.42,"p":0.513,"n":3},{"t":12.08,"p":0.513,"n":1},{"t":13.75,"p":0.513,"n":2},{"t":14.58,"p":0.513,"n":1},{"t":21.58,"p":0.513,"n":1},
{"t":2.75,"p":0.538,"n":1},{"t":4.58,"p":0.538,"n":1},{"t":5.42,"p":0.538,"n":1},{"t":5.75,"p":0.538,"n":1},{"t":6.25,"p":0.538,"n":2},{"t":6.58,"p":0.538,"n":1},{"t":6.75,"p":0.538,"n":2},{"t":7.58,"p":0.538,"n":1},{"t":8.75,"p":0.538,"n":1},{"t":9.08,"p":0.538,"n":3},{"t":9.25,"p":0.538,"n":1},{"t":9.58,"p":0.538,"n":3},{"t":9.75,"p":0.538,"n":3},{"t":10.08,"p":0.538,"n":1},{"t":10.42,"p":0.538,"n":1},{"t":10.58,"p":0.538,"n":2},{"t":11.42,"p":0.538,"n":1},{"t":11.58,"p":0.538,"n":2},{"t":13.75,"p":0.538,"n":1},{"t":15.25,"p":0.538,"n":1},{"t":15.42,"p":0.538,"n":1},{"t":17.25,"p":0.538,"n":2},{"t":17.75,"p":0.538,"n":1},{"t":21.25,"p":0.538,"n":1},
{"t":1.75,"p":0.563,"n":1},{"t":2.75,"p":0.563,"n":1},{"t":3.25,"p":0.563,"n":1},{"t":3.75,"p":0.563,"n":1},{"t":4.42,"p":0.563,"n":1},{"t":4.75,"p":0.563,"n":2},{"t":5.08,"p":0.563,"n":1},{"t":5.42,"p":0.563,"n":1},{"t":6.08,"p":0.563,"n":1},{"t":6.42,"p":0.563,"n":2},{"t":6.75,"p":0.563,"n":1},{"t":7.08,"p":0.563,"n":1},{"t":7.58,"p":0.563,"n":1},{"t":8.58,"p":0.563,"n":1},{"t":8.75,"p":0.563,"n":2},{"t":9.08,"p":0.563,"n":1},{"t":9.58,"p":0.563,"n":3},{"t":9.75,"p":0.563,"n":1},{"t":10.08,"p":0.563,"n":1},{"t":10.25,"p":0.563,"n":4},{"t":10.42,"p":0.563,"n":1},{"t":10.58,"p":0.563,"n":1},{"t":10.75,"p":0.563,"n":1},{"t":10.92,"p":0.563,"n":1},{"t":11.08,"p":0.563,"n":2},{"t":11.25,"p":0.563,"n":1},{"t":11.42,"p":0.563,"n":1},{"t":11.58,"p":0.563,"n":1},{"t":11.75,"p":0.563,"n":1},{"t":11.92,"p":0.563,"n":1},{"t":12.08,"p":0.563,"n":3},{"t":15.58,"p":0.563,"n":1},{"t":15.75,"p":0.563,"n":1},{"t":16.08,"p":0.563,"n":1},{"t":16.58,"p":0.563,"n":1},{"t":16.75,"p":0.563,"n":1},{"t":17.08,"p":0.563,"n":1},{"t":19.08,"p":0.563,"n":1},{"t":21.25,"p":0.563,"n":1},{"t":21.75,"p":0.563,"n":1},
{"t":1.75,"p":0.588,"n":1},{"t":2.75,"p":0.588,"n":2},{"t":3.08,"p":0.588,"n":1},{"t":6.42,"p":0.588,"n":1},{"t":8.92,"p":0.588,"n":1},{"t":9.08,"p":0.588,"n":1},{"t":9.25,"p":0.588,"n":1},{"t":9.42,"p":0.588,"n":1},{"t":9.58,"p":0.588,"n":1},{"t":9.75,"p":0.588,"n":1},{"t":9.92,"p":0.588,"n":1},{"t":10.08,"p":0.588,"n":2},{"t":10.25,"p":0.588,"n":2},{"t":10.42,"p":0.588,"n":1},{"t":10.58,"p":0.588,"n":1},{"t":10.75,"p":0.588,"n":1},{"t":10.92,"p":0.588,"n":2},{"t":11.42,"p":0.588,"n":1},{"t":11.58,"p":0.588,"n":1},{"t":13.92,"p":0.588,"n":1},{"t":14.25,"p":0.588,"n":1},{"t":14.75,"p":0.588,"n":1},{"t":16.25,"p":0.588,"n":1},{"t":16.58,"p":0.588,"n":1},{"t":17.08,"p":0.588,"n":1},{"t":18.08,"p":0.588,"n":2},{"t":21.42,"p":0.588,"n":1},{"t":21.58,"p":0.588,"n":1},
{"t":4.42,"p":0.613,"n":2},{"t":5.25,"p":0.613,"n":1},{"t":5.42,"p":0.613,"n":1},{"t":5.75,"p":0.613,"n":1},{"t":5.92,"p":0.613,"n":1},{"t":6.25,"p":0.613,"n":1},{"t":6.42,"p":0.613,"n":1},{"t":6.58,"p":0.613,"n":1},{"t":6.75,"p":0.613,"n":1},{"t":8.75,"p":0.613,"n":1},{"t":8.92,"p":0.613,"n":2},{"t":9.08,"p":0.613,"n":1},{"t":9.58,"p":0.613,"n":1},{"t":9.75,"p":0.613,"n":1},{"t":10.08,"p":0.613,"n":1},{"t":10.25,"p":0.613,"n":2},{"t":10.42,"p":0.613,"n":1},{"t":10.58,"p":0.613,"n":3},{"t":10.92,"p":0.613,"n":1},{"t":11.08,"p":0.613,"n":1},{"t":13.75,"p":0.613,"n":1},{"t":14.58,"p":0.613,"n":1},{"t":14.75,"p":0.613,"n":1},{"t":18.58,"p":0.613,"n":1},
{"t":0.92,"p":0.638,"n":1},{"t":3.42,"p":0.638,"n":1},{"t":4.42,"p":0.638,"n":1},{"t":5.08,"p":0.638,"n":1},{"t":5.42,"p":0.638,"n":1},{"t":6.25,"p":0.638,"n":2},{"t":6.42,"p":0.638,"n":1},{"t":6.58,"p":0.638,"n":2},{"t":9.25,"p":0.638,"n":1},{"t":9.75,"p":0.638,"n":1},{"t":10.92,"p":0.638,"n":1},{"t":11.25,"p":0.638,"n":1},{"t":11.58,"p":0.638,"n":1},{"t":14.08,"p":0.638,"n":3},{"t":14.75,"p":0.638,"n":1},{"t":17.25,"p":0.638,"n":1},{"t":19.25,"p":0.638,"n":1},{"t":21.58,"p":0.638,"n":1},
{"t":2.75,"p":0.663,"n":1},{"t":5.25,"p":0.663,"n":1},{"t":5.75,"p":0.663,"n":1},{"t":8.75,"p":0.663,"n":1},{"t":9.08,"p":0.663,"n":1},{"t":9.25,"p":0.663,"n":2},{"t":9.75,"p":0.663,"n":1},{"t":10.08,"p":0.663,"n":1},{"t":10.42,"p":0.663,"n":1},{"t":10.75,"p":0.663,"n":1},{"t":10.92,"p":0.663,"n":1},{"t":11.42,"p":0.663,"n":1},{"t":11.75,"p":0.663,"n":2},{"t":14.08,"p":0.663,"n":1},{"t":14.25,"p":0.663,"n":1},{"t":15.25,"p":0.663,"n":1},{"t":16.92,"p":0.663,"n":1},{"t":21.58,"p":0.663,"n":2},{"t":21.75,"p":0.663,"n":1},
{"t":3.58,"p":0.688,"n":1},{"t":8.58,"p":0.688,"n":1},{"t":8.92,"p":0.688,"n":1},{"t":9.08,"p":0.688,"n":1},{"t":9.25,"p":0.688,"n":1},{"t":9.58,"p":0.688,"n":1},{"t":9.75,"p":0.688,"n":2},{"t":10.25,"p":0.688,"n":4},{"t":10.58,"p":0.688,"n":1},{"t":11.25,"p":0.688,"n":1},{"t":11.42,"p":0.688,"n":2},{"t":11.92,"p":0.688,"n":1},{"t":16.75,"p":0.688,"n":2},{"t":21.25,"p":0.688,"n":1},{"t":21.58,"p":0.688,"n":1},
{"t":2.75,"p":0.713,"n":1},{"t":3.08,"p":0.713,"n":1},{"t":6.25,"p":0.713,"n":1},{"t":9.25,"p":0.713,"n":1},{"t":9.42,"p":0.713,"n":1},{"t":10.25,"p":0.713,"n":1},{"t":10.58,"p":0.713,"n":2},{"t":11.42,"p":0.713,"n":1},{"t":13.42,"p":0.713,"n":1},{"t":14.25,"p":0.713,"n":1},{"t":18.08,"p":0.713,"n":1},{"t":21.25,"p":0.713,"n":2},
{"t":2.42,"p":0.738,"n":1},{"t":2.75,"p":0.738,"n":1},{"t":3.58,"p":0.738,"n":1},{"t":6.25,"p":0.738,"n":1},{"t":6.58,"p":0.738,"n":1},{"t":6.92,"p":0.738,"n":1},{"t":8.75,"p":0.738,"n":1},{"t":9.08,"p":0.738,"n":1},{"t":9.42,"p":0.738,"n":2},{"t":10.08,"p":0.738,"n":1},{"t":10.25,"p":0.738,"n":1},{"t":10.42,"p":0.738,"n":2},{"t":10.58,"p":0.738,"n":2},{"t":11.08,"p":0.738,"n":1},{"t":11.75,"p":0.738,"n":1},{"t":14.75,"p":0.738,"n":1},{"t":16.08,"p":0.738,"n":1},{"t":17.58,"p":0.738,"n":1},{"t":19.58,"p":0.738,"n":1},{"t":21.58,"p":0.738,"n":2},
{"t":3.25,"p":0.763,"n":1},{"t":4.42,"p":0.763,"n":1},{"t":5.75,"p":0.763,"n":1},{"t":9.08,"p":0.763,"n":1},{"t":9.58,"p":0.763,"n":1},{"t":11.25,"p":0.763,"n":1},{"t":11.92,"p":0.763,"n":1},{"t":21.42,"p":0.763,"n":1},{"t":23.08,"p":0.763,"n":1},
{"t":3.08,"p":0.788,"n":2},{"t":4.42,"p":0.788,"n":1},{"t":6.58,"p":0.788,"n":1},{"t":9.08,"p":0.788,"n":1},{"t":9.58,"p":0.788,"n":1},{"t":9.92,"p":0.788,"n":1},{"t":10.08,"p":0.788,"n":5},{"t":11.08,"p":0.788,"n":1},{"t":11.58,"p":0.788,"n":2},{"t":11.92,"p":0.788,"n":1},{"t":14.42,"p":0.788,"n":1},{"t":21.25,"p":0.788,"n":2},
{"t":3.58,"p":0.813,"n":1},{"t":5.58,"p":0.813,"n":1},{"t":9.25,"p":0.813,"n":1},{"t":9.75,"p":0.813,"n":1},{"t":10.25,"p":0.813,"n":1},{"t":10.42,"p":0.813,"n":1},{"t":15.75,"p":0.813,"n":1},{"t":21.25,"p":0.813,"n":1},{"t":21.58,"p":0.813,"n":1},
{"t":9.58,"p":0.838,"n":1},{"t":9.92,"p":0.838,"n":1},{"t":10.08,"p":0.838,"n":1},{"t":10.42,"p":0.838,"n":1},{"t":10.75,"p":0.838,"n":1},{"t":11.75,"p":0.838,"n":1},{"t":15.92,"p":0.838,"n":1},{"t":18.08,"p":0.838,"n":1},
{"t":3.75,"p":0.863,"n":1},{"t":6.25,"p":0.863,"n":1},{"t":15.25,"p":0.863,"n":1},{"t":17.08,"p":0.863,"n":1},{"t":17.25,"p":0.863,"n":2},{"t":18.08,"p":0.863,"n":1},
{"t":4.42,"p":0.888,"n":1},{"t":9.75,"p":0.888,"n":2},{"t":10.42,"p":0.888,"n":1},{"t":11.25,"p":0.888,"n":1},{"t":17.08,"p":0.888,"n":1},{"t":21.58,"p":0.888,"n":1},
{"t":3.58,"p":0.913,"n":1},{"t":5.58,"p":0.913,"n":1},{"t":6.25,"p":0.913,"n":1},{"t":9.08,"p":0.913,"n":2},{"t":10.58,"p":0.913,"n":1},
{"t":9.42,"p":0.938,"n":1},{"t":9.75,"p":0.938,"n":1},{"t":12.25,"p":0.938,"n":1},{"t":17.25,"p":0.938,"n":1},{"t":21.58,"p":0.938,"n":1},{"t":21.75,"p":0.938,"n":1},
{"t":5.58,"p":0.963,"n":1},{"t":9.58,"p":0.963,"n":1},{"t":12.58,"p":0.963,"n":1},{"t":15.25,"p":0.963,"n":1},{"t":21.58,"p":0.963,"n":1},
{"t":3.58,"p":0.988,"n":1}
]},
"mark":{"type":"rect","clip":true},
"encoding":{
"x":{"field":"t","type":"quantitative","bin":{"step":0.1666667,"extent":[0,24]},"scale":{"domain":[0,23.846],"nice":false,"zero":false},"axis":{"title":"Time (hours)","values":[0,5,10,15,20],"format":"d","titlePadding":4}},
"y":{"field":"p","type":"quantitative","bin":{"step":0.025,"extent":[0,1]},"scale":{"domain":[0,1],"nice":false},"axis":{"title":"Model prediction","values":[0,0.2,0.4,0.6,0.8,1],"format":".1f","titlePadding":6}},
"color":{"field":"n","type":"quantitative","scale":{"domain":[0,1,2,3,4,5,6,7,8,9,10,11,12,13,14],"range":["#440154","#471b6c","#472a7a","#443a83","#3f4889","#38588c","#2c728e","#21908c","#1fa187","#2db27d","#4ac16d","#73d056","#a0da39","#d0e11c","#fde725"]},"legend":null}
}}
